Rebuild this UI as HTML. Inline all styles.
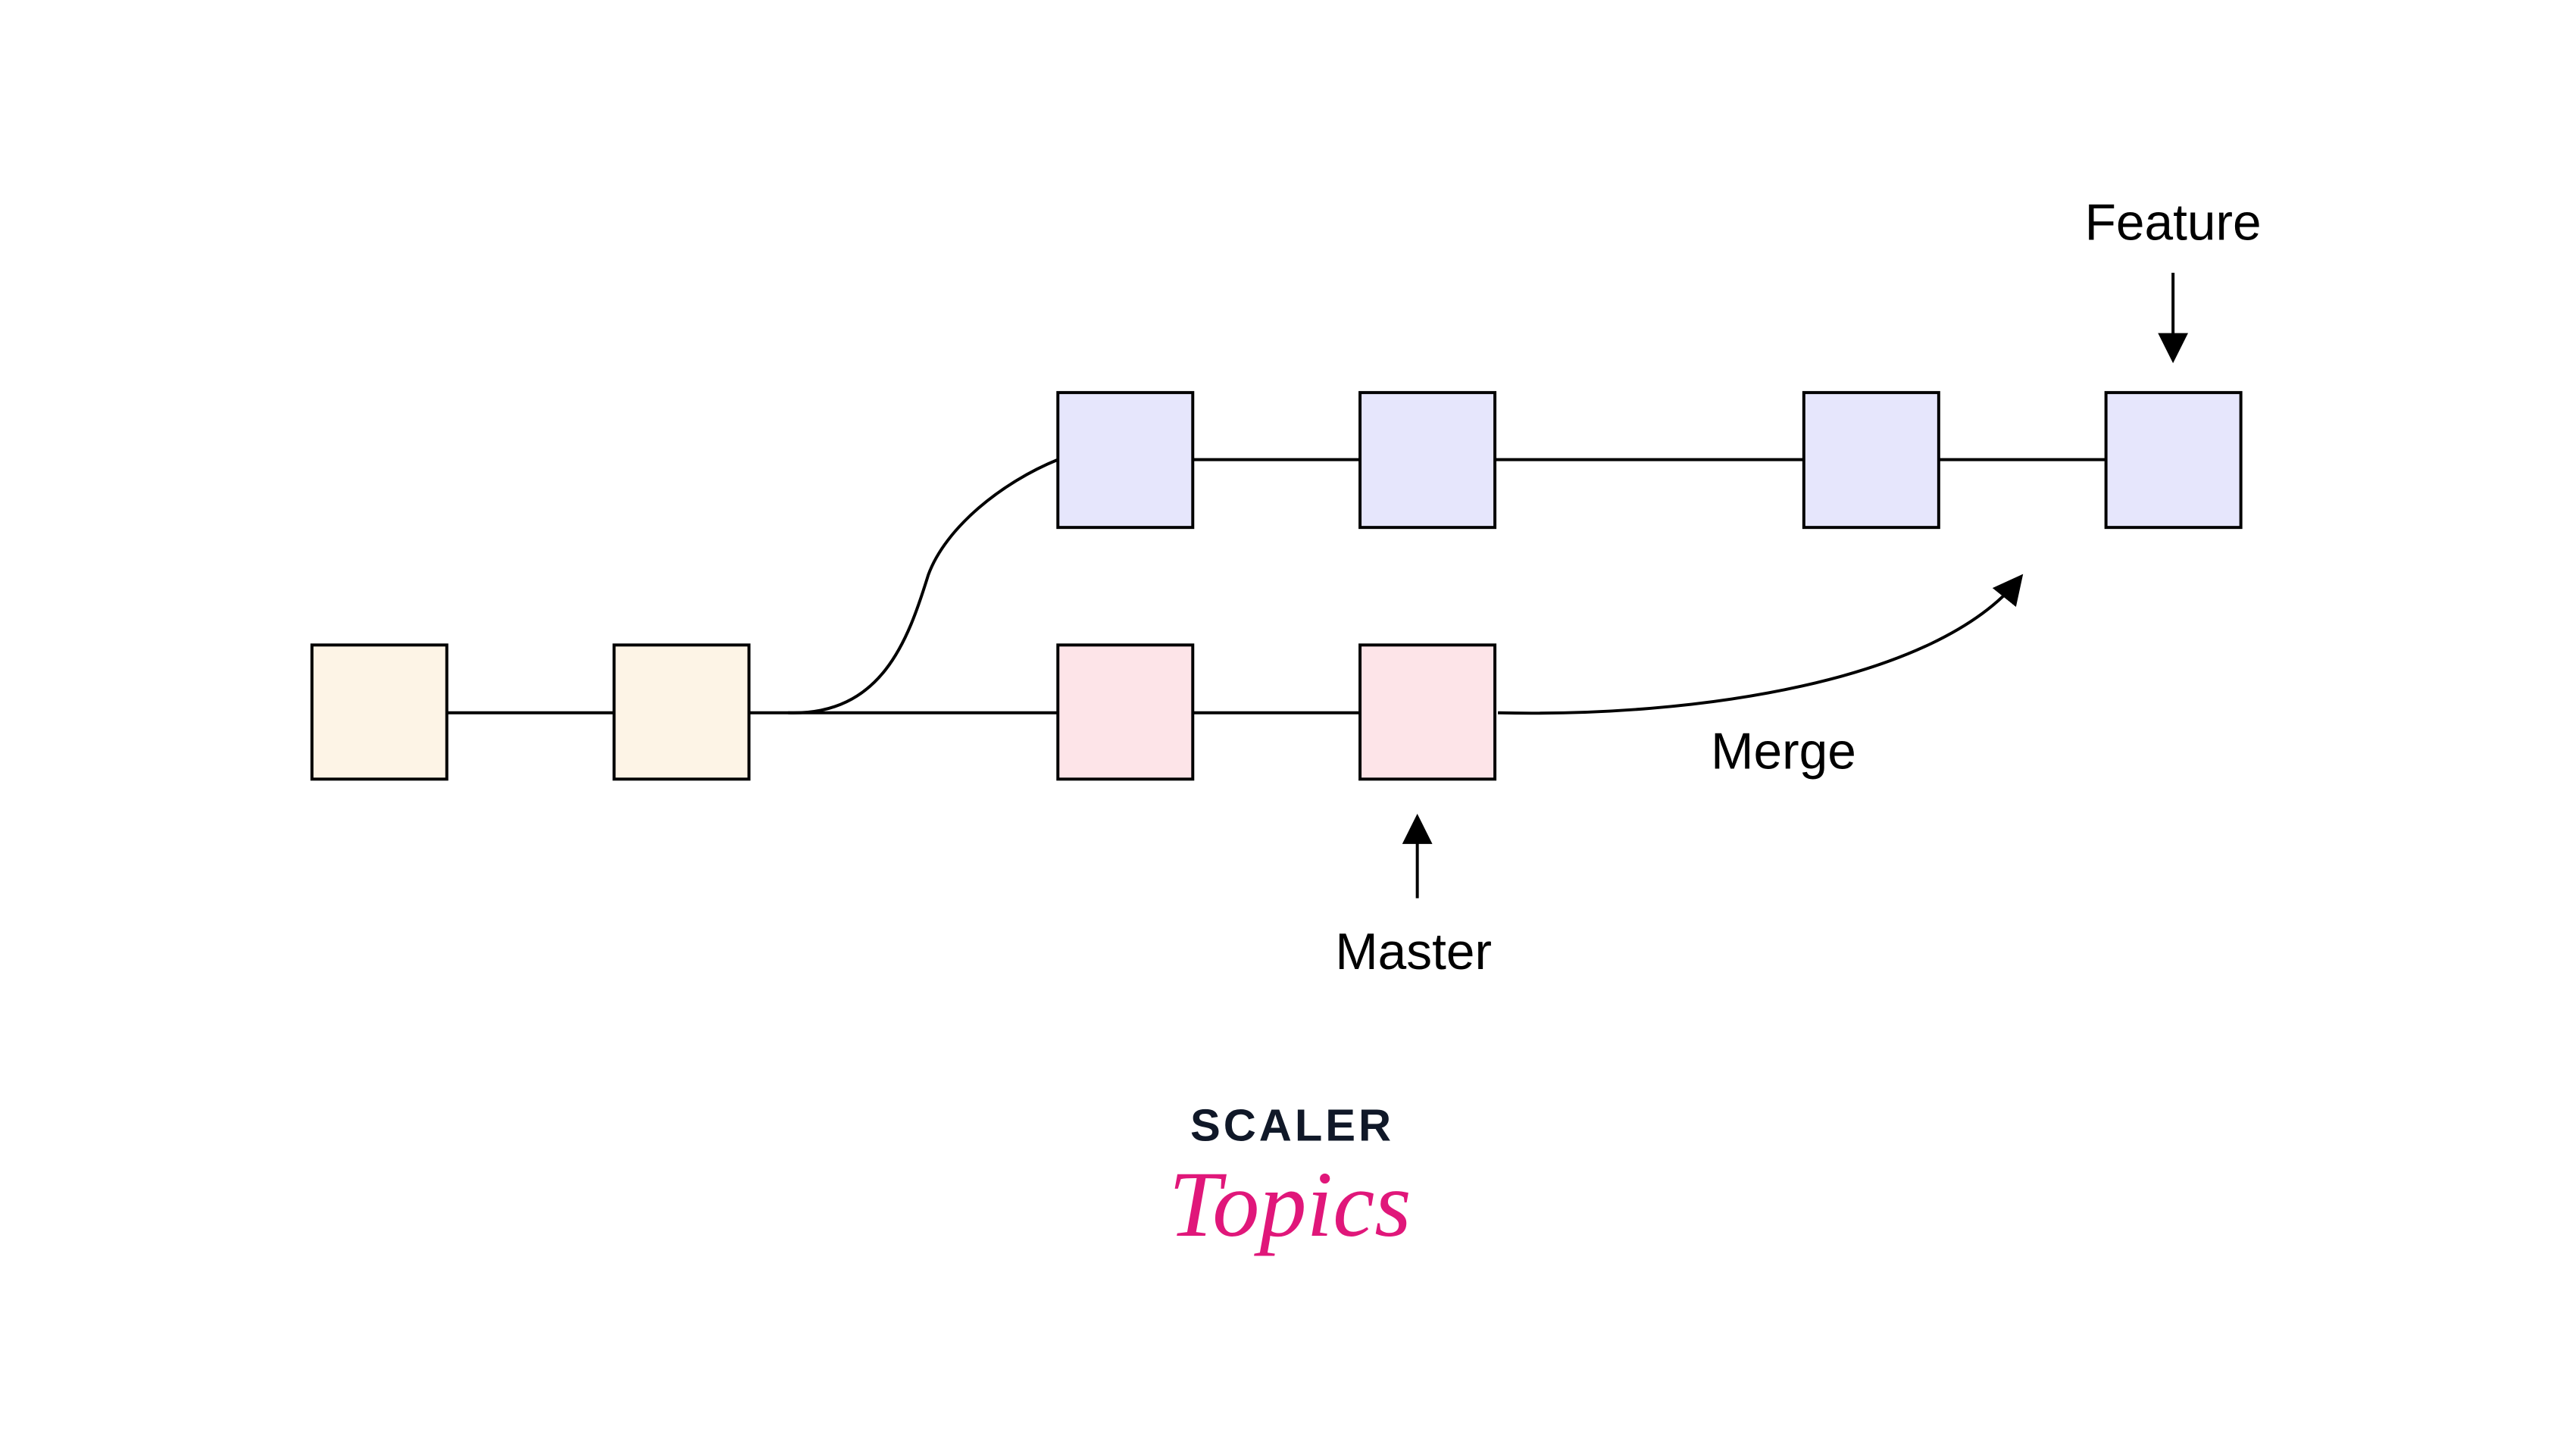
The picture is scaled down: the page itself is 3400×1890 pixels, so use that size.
<!DOCTYPE html>
<html><head><meta charset="utf-8"><style>
html,body{margin:0;padding:0;background:#fff;}
svg{display:block;}
</style></head><body>
<svg width="3400" height="1890" viewBox="0 0 3400 1890" xmlns="http://www.w3.org/2000/svg">
<defs>
<marker id="ah" markerWidth="10" markerHeight="10" refX="8" refY="5" orient="auto" markerUnits="strokeWidth">
<path d="M0,0 L10,5 L0,10 z" fill="#000"/>
</marker>
</defs>
<g transform="scale(0.9945)">
<g stroke="#000" stroke-width="4" fill="none">
<line x1="593" y1="946" x2="815" y2="946"/>
<line x1="994" y1="946" x2="1404" y2="946"/>
<line x1="1583" y1="946" x2="1805" y2="946"/>
<line x1="1583" y1="610" x2="1805" y2="610"/>
<line x1="1984" y1="610" x2="2394" y2="610"/>
<line x1="2573" y1="610" x2="2795" y2="610"/>
<path d="M1046 946 C1170 950 1205 850 1232 763 C1255 700 1330 640 1404 610"/>
<path d="M1988 946 C2250 952 2570 905 2680 768" marker-end="url(#ah)"/>
<line x1="2884" y1="362" x2="2884" y2="474" marker-end="url(#ah)"/>
<line x1="1881" y1="1192" x2="1881" y2="1088" marker-end="url(#ah)"/>
</g>
<g stroke="#000" stroke-width="4">
<rect x="414" y="856" width="179" height="178" fill="#fdf4e6"/>
<rect x="815" y="856" width="179" height="178" fill="#fdf4e6"/>
<rect x="1404" y="856" width="179" height="178" fill="#fde4e8"/>
<rect x="1805" y="856" width="179" height="178" fill="#fde4e8"/>
<rect x="1404" y="521" width="179" height="179" fill="#e6e6fc"/>
<rect x="1805" y="521" width="179" height="179" fill="#e6e6fc"/>
<rect x="2394" y="521" width="179" height="179" fill="#e6e6fc"/>
<rect x="2795" y="521" width="179" height="179" fill="#e6e6fc"/>
</g>
<g font-family="Liberation Sans, sans-serif" font-size="68" fill="#000" text-anchor="middle">
<text x="2884" y="318">Feature</text>
<text x="2367" y="1020">Merge</text>
<text x="1876" y="1286">Master</text>
</g>
<text x="1715" y="1514" font-family="Liberation Sans, sans-serif" font-weight="bold" font-size="60" fill="#101828" text-anchor="middle" letter-spacing="4">SCALER</text>
<text x="1712" y="1640" font-family="Liberation Serif, serif" font-style="italic" font-size="125" fill="#e0177a" text-anchor="middle">Topics</text>
</g>
</svg>
</body></html>
